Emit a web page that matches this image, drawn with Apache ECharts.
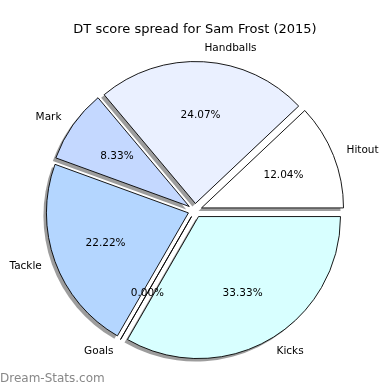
<!DOCTYPE html>
<html>
<head>
<meta charset="utf-8">
<script src="https://cdn.jsdelivr.net/npm/echarts@6/dist/echarts.min.js"></script>
<style>html,body{margin:0;padding:0;background:#fff}#c{width:390px;height:390px}</style>
</head>
<body>
<div id="c"></div>
<script>
const titleText = 'DT score spread for Sam Frost (2015)';
const categories = ['Hitout', 'Handballs', 'Mark', 'Tackle', 'Goals', 'Kicks'];
const values = [13, 26, 9, 24, 0, 36];
const colors = ['#ffffff', '#eaf0ff', '#c4d8ff', '#b4d6ff', '#d0e4ff', '#d8ffff'];
const watermark = 'Dream-Stats.com';

const total = values.reduce((a, b) => a + b, 0);
const FONT = 'DejaVu Sans';
const R = 142;
const CX = 195, CY = 210.5;
const OFFSET = 7;
const SH = 3;

const mkData = (withColor) => categories.map((c, i) => {
  const d = { name: c, value: values[i], selected: true };
  if (withColor) d.itemStyle = { color: colors[i] };
  return d;
});

const common = {
  type: 'pie', startAngle: 0, clockwise: false,
  selectedMode: 'multiple', selectedOffset: OFFSET,
  avoidLabelOverlap: false, stillShowZeroSum: true,
  emphasis: { disabled: true }
};

const chart = echarts.init(document.getElementById('c'), null, { renderer: 'canvas' });
chart.setOption({
  animation: false,
  backgroundColor: '#ffffff',
  title: {
    text: titleText, left: 'center', top: 18,
    textStyle: { fontFamily: FONT, fontSize: 13, fontWeight: 'normal', color: '#000' }
  },
  graphic: [{
    type: 'text', left: 0, top: 373,
    style: { text: watermark, fill: '#888888', font: '12px "DejaVu Sans"' }
  }],
  series: [
    Object.assign({}, common, {
      radius: R, center: [CX - SH, CY + SH], silent: true, z: 1,
      itemStyle: { color: 'rgba(60,60,60,0.5)', borderWidth: 0 },
      label: { show: false }, labelLine: { show: false },
      data: mkData(false)
    }),
    Object.assign({}, common, {
      radius: R, center: [CX, CY], z: 2,
      itemStyle: { borderColor: '#000', borderWidth: 0.9 },
      label: {
        show: true, position: 'outside', distanceToLabelLine: 0,
        fontFamily: FONT, fontSize: 10.5, color: '#000', formatter: '{b}'
      },
      labelLine: { show: false, length: 14, length2: 0 },
      data: mkData(true)
    }),
    Object.assign({}, common, {
      radius: [0, R * 1.2], center: [CX, CY], silent: true, z: 3,
      itemStyle: { color: 'rgba(0,0,0,0)', borderWidth: 0 },
      label: {
        show: true, position: 'inside',
        fontFamily: FONT, fontSize: 10.5, color: '#000',
        formatter: p => (p.value / total * 100).toFixed(2) + '%'
      },
      labelLine: { show: false },
      data: mkData(false)
    })
  ]
});
</script>
</body>
</html>
